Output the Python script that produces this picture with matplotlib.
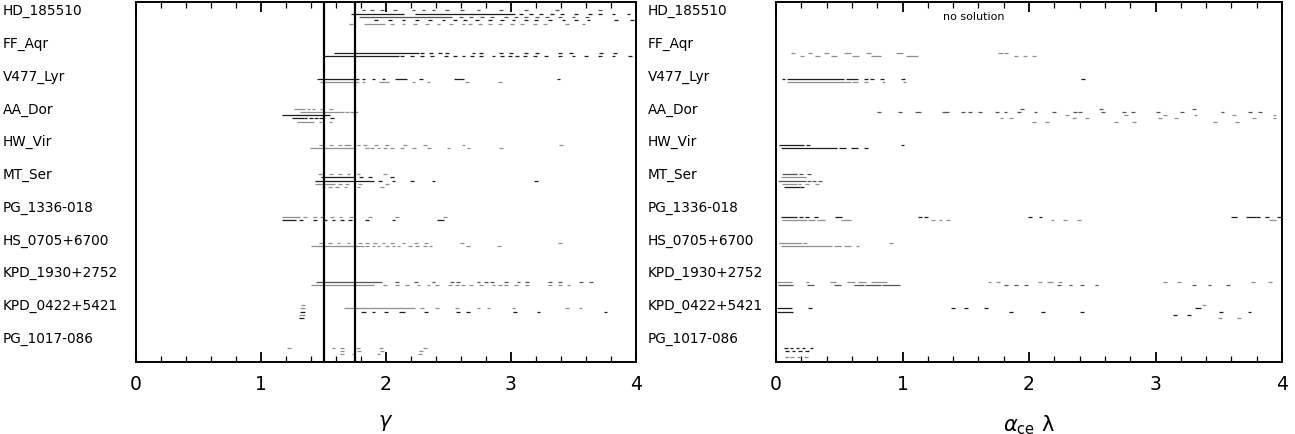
import matplotlib
matplotlib.use("Agg")
import matplotlib.pyplot as plt
from matplotlib.ticker import MultipleLocator

systems = ["HD_185510", "FF_Aqr", "V477_Lyr", "AA_Dor", "HW_Vir", "MT_Ser",
           "PG_1336-018", "HS_0705+6700", "KPD_1930+2752", "KPD_0422+5421",
           "PG_1017-086"]

# reference values of gamma marked with vertical lines
gamma_marks = [1.5, 1.75]

# rows: (system index, sub-row, shade, items); a number is a short dash
# centred there, a tuple is a solid span (x0, x1)
gamma_rows = [
    (0, 1, 'm', [1.82, 1.89, 1.97, 2.07, 2.22, 2.30, 2.38, 2.49, 2.61, 2.74, 2.92, 3.12, 3.37, 3.71]),
    (0, 2, 'k', [(1.72, 2.14), (2.23, 3.03), 3.08, 3.16, 3.24, 3.33, 3.41, 3.52, 3.63, 3.71, 3.82, 3.94]),
    (0, 3, 'm', [(1.78, 2.53), 2.60, 2.68, 2.77, 2.85, 2.96, 3.04, 3.12, 3.21, 3.29, 3.39, 3.50, 3.61]),
    (0, 4, 'k', [1.92, 2.03, 2.14, 2.25, 2.35, 2.46, 2.55, 2.63, 2.73, 2.83, 2.93, 3.02, 3.12, 3.20,
                 3.31, 3.42, 3.52, 3.62, 3.84, 3.97]),
    (0, 5, 'g', [1.72, (1.82, 1.99), 2.05, 2.14, 2.23, 2.33, 2.42, 2.52, 2.62, 2.67, 2.75, 2.83, 2.91,
                 3.01, 3.09, 3.19, 3.27, 3.45, 3.58]),
    (1, 4, 'k', [(1.58, 2.26), 2.29, 2.36, 2.43, 2.49, 2.70, 2.76, 2.92, 3.00, 3.12, 3.21, 3.39, 3.48,
                 3.72, 3.83]),
    (1, 5, 'k', [(1.50, 2.10), 2.13, 2.21, 2.29, 2.37, 2.48, 2.55, 2.62, 2.69, 2.76, 2.86, 2.93, 2.99,
                 3.05, 3.11, 3.19, 3.28, 3.39, 3.50, 3.60, 3.71, 3.82, 3.95]),
    (2, 2, 'k', [(1.45, 1.78), 1.82, 1.90, 1.98, (2.07, 2.17), 2.28, (2.54, 2.62), 3.38]),
    (2, 3, 'g', [(1.47, 1.78), 1.82, (1.94, 2.02), 2.22, 2.34, 2.65, 2.91]),
    (3, 1, 'g', [(1.26, 1.35), 1.38, 1.42, 1.49, 1.56]),
    (3, 2, 'g', [(1.31, 1.63), 1.65, 1.69, 1.73, 1.76]),
    (3, 3, 'k', [(1.17, 1.55)]),
    (3, 4, 'k', [(1.25, 1.34), 1.355, 1.40, 1.44, 1.48, (1.55, 1.58)]),
    (3, 5, 'g', [(1.29, 1.42), 1.475, 1.555]),
    (4, 2, 'g', [1.48, 1.56, 1.63, (1.66, 1.72), 1.78, 1.83, 1.92, 2.01, 2.15, 2.31, 2.62, 3.40]),
    (4, 3, 'g', [(1.39, 1.75), 1.845, 1.885, 1.94, 1.99, 2.045, 2.125, 2.225, 2.345, 2.50, 2.66, 2.92]),
    (5, 1, 'g', [1.47, 1.56, 1.63, 1.70, 1.78, 1.99]),
    (5, 2, 'k', [(1.48, 1.745), 1.80, 1.87, 2.05]),
    (5, 3, 'k', [(1.43, 1.90), 1.95, 2.06, 2.21, 2.38, 3.20]),
    (5, 4, 'g', [(1.43, 1.59), 1.63, 1.69, 1.79, 2.01]),
    (5, 5, 'g', [1.50, 1.55, 1.61, 1.675, 1.78, 1.97]),
    (6, 4, 'g', [(1.17, 1.31), 1.35, 1.43, 1.49, 1.57, 1.635, 1.72, 1.87, 2.09, 2.47]),
    (6, 5, 'k', [(1.17, 1.28), 1.32, 1.43, 1.51, 1.58, 1.65, 1.71, 1.85, 2.06, (2.41, 2.46)]),
    (7, 2, 'g', [1.48, 1.55, 1.62, 1.70, 1.79, 1.845, 1.91, 1.98, 2.05, 2.14, 2.24, 2.32, 2.61, 3.39]),
    (7, 3, 'g', [(1.40, 1.82), 1.845, 1.90, 1.94, 2.01, 2.06, 2.10, 2.19, 2.25, 2.31, 2.355, 2.655, 2.905]),
    (8, 4, 'm', [(1.44, 1.97), 2.09, 2.24, 2.38, 2.53, 2.575, 2.74, 2.80, 2.85, 2.96, 3.06, 3.13, 3.31,
                 3.39, 3.56, 3.64]),
    (8, 5, 'g', [(1.40, 1.90), 1.99, 2.09, 2.17, 2.26, 2.34, 2.41, 2.51, 2.57, 2.615, 2.68, 2.76, 2.86,
                 2.91, 2.96, 3.04, 3.13, 3.31, 3.39, 3.46]),
    (9, 1, 'g', [(1.32, 1.35)]),
    (9, 2, 'g', [(1.31, 1.35), (1.665, 2.23), 2.29, 2.41, 2.57, 2.74, 2.82, 3.02, 3.45, 3.555]),
    (9, 3, 'k', [(1.31, 1.35), (1.80, 1.84), 1.90, 2.00, (2.10, 2.15), 2.32, 2.575, 2.655, 3.03, 3.22, 3.755]),
    (9, 4, 'g', [(1.30, 1.35)]),
    (9, 5, 'k', [(1.30, 1.34)]),
    (10, 4, 'g', [1.225, 1.58, 1.645, 1.775, 1.96, 2.31]),
    (10, 5, 'g', [1.65, 1.785, 1.97, 2.28]),
    (10, 6, 'g', [1.65, 1.74, 1.94, 2.27]),
]

alpha_rows = [
    (1, 4, 'g', [(0.117, 0.151), (0.250, 0.284), (0.377, 0.417), (0.536, 0.589), (0.709, 0.748),
                 (0.947, 1.0), (1.757, 1.796), 1.82]),
    (1, 5, 'g', [(0.186, 0.218), (0.311, 0.345), (0.438, 0.483), (0.60, 0.66), (0.748, 0.828),
                 (1.027, 1.12), 1.90, 1.97, 2.04]),
    (2, 2, 'k', [0.06, (0.085, 0.536), (0.55, 0.648), 0.71, 0.76, 0.84, 1.005, 2.43]),
    (2, 3, 'g', [(0.09, 0.589), (0.602, 0.648), 0.71, 0.85, 1.015]),
    (3, 1, 'm', [1.945, 2.571, 3.306]),
    (3, 2, 'm', [0.815, 0.979, (1.10, 1.15), 1.325, 1.35, 1.478, 1.534, 1.613, 1.746, 1.815, 1.918,
                 2.051, (2.18, 2.21), 2.361, 2.404, 2.582, 2.751, 2.82, 3.017, 3.21, 3.529, 3.744, 3.826]),
    (3, 3, 'g', [2.30, 2.765, 3.078, 3.317, 3.619, 3.94]),
    (3, 4, 'g', [1.783, 1.86, 2.356, 2.46, 3.033, 3.163, 3.778, 3.94]),
    (3, 5, 'g', [2.04, 2.144, 2.69, 2.831, 3.468, 3.643]),
    (4, 2, 'k', [(0.02, 0.22), 0.25, 1.0]),
    (4, 3, 'k', [(0.04, 0.48), (0.50, 0.557), (0.59, 0.648), 0.71]),
    (5, 1, 'm', [(0.05, 0.165), 0.195, 0.263]),
    (5, 2, 'g', [(0.04, 0.24)]),
    (5, 3, 'm', [(0.014, 0.24), 0.26, 0.303, 0.348]),
    (5, 4, 'g', [(0.05, 0.165), 0.185, 0.248, 0.326]),
    (5, 5, 'k', [(0.06, 0.186), 0.208]),
    (6, 4, 'k', [(0.04, 0.165), 0.198, 0.248, 0.317, (0.47, 0.523), 1.141, 1.186, 2.011, 2.091,
                 (3.598, 3.645), (3.712, 3.794), 3.813, 3.882, 3.977]),
    (6, 5, 'g', [(0.048, 0.244), (0.252, 0.311), (0.327, 0.385), (0.515, 0.595), 1.242, 1.30, 1.361,
                 2.185, 2.284, 2.396, (3.90, 3.95)]),
    (7, 2, 'g', [(0.027, 0.205), 0.228, 0.907]),
    (7, 3, 'g', [(0.038, 0.443), (0.457, 0.51), (0.536, 0.589), 0.645]),
    (8, 4, 'g', [(0.008, 0.125), 0.249, (0.424, 0.472), (0.565, 0.623), (0.65, 0.711), (0.748, 0.875),
                 1.687, 1.753, 2.086, (2.144, 2.189), 2.248, 3.077, 3.184, 3.77, 3.902]),
    (8, 5, 'm', [(0.013, 0.138), (0.247, 0.30), (0.459, 0.517), (0.615, 0.695), (0.703, 0.828),
                 (0.836, 0.982), 1.82, 1.897, 1.979, 2.236, 2.328, 2.421, 2.533, 3.303, 3.427, 3.571]),
    (9, 1, 'g', [3.382]),
    (9, 2, 'k', [(0.008, 0.125), 0.268, 1.402, 1.499, 1.663, (3.316, 3.356)]),
    (9, 3, 'k', [(0.008, 0.133), 1.855, 2.113, 2.417, 3.518, 3.743]),
    (9, 4, 'k', [3.154, 3.263]),
    (9, 5, 'g', [3.513, 3.661]),
    (10, 4, 'k', [0.077, 0.122, 0.170, 0.218, 0.281]),
    (10, 5, 'k', [0.09, 0.138, 0.191, 0.247]),
    (10, 7, 'g', [0.085, 0.125, 0.178, 0.236]),
]

shades = {'k': '#1e1e1e', 'm': '#555555', 'g': '#8f8f8f'}
DASH = 0.03


def sub_y(i, slot):
    # each system occupies one unit in y; sub-rows stacked a few pixels apart
    return i + (8.4 + 3.3 * (slot - 1)) / 32.7


def draw_rows(ax, rows):
    for i, slot, shade, items in rows:
        y = sub_y(i, slot)
        x0s, x1s = [], []
        for it in items:
            if isinstance(it, tuple):
                x0s.append(it[0])
                x1s.append(it[1])
            else:
                x0s.append(it - DASH / 2)
                x1s.append(it + DASH / 2)
        ax.hlines([y] * len(x0s), x0s, x1s, colors=shades[shade], lw=0.9)


def style_axes(ax, label, name_x):
    ax.set_xlim(0, 4)
    ax.set_ylim(len(systems), 0)
    ax.set_yticks([])
    ax.xaxis.set_major_locator(MultipleLocator(1))
    ax.xaxis.set_minor_locator(MultipleLocator(0.2))
    ax.tick_params(which='both', direction='in', top=True, labeltop=False)
    ax.tick_params(which='major', length=7, width=1.3, labelsize=13.5, pad=9)
    ax.tick_params(which='minor', length=4, width=0.9)
    for sp in ax.spines.values():
        sp.set_linewidth(1.4)
    ax.set_xlabel(label, fontsize=15, labelpad=14)
    for i, name in enumerate(systems):
        ax.text(name_x, i + 0.29, name, transform=ax.get_yaxis_transform(),
                ha='left', va='center', fontsize=9.8)


fig = plt.figure(figsize=(12.95, 4.34), dpi=100)
ax1 = fig.add_axes([136 / 1295, 72 / 434, 500 / 1295, 360 / 434])
ax2 = fig.add_axes([776 / 1295, 72 / 434, 506 / 1295, 360 / 434])

draw_rows(ax1, gamma_rows)
for g in gamma_marks:
    ax1.axvline(g, color='black', lw=1.6)
style_axes(ax1, r'$\gamma$', -133 / 500)

draw_rows(ax2, alpha_rows)
ax2.text(1.565, 0.46, 'no solution', ha='center', va='center', fontsize=8)
style_axes(ax2, r'$\alpha_{\rm ce}$ λ', -128 / 506)

fig.savefig('out.png', dpi=100)
